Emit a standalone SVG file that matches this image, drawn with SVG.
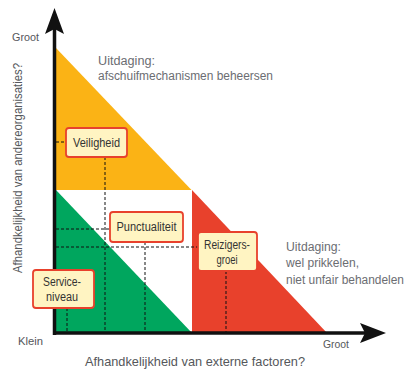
<svg xmlns="http://www.w3.org/2000/svg" width="409" height="371" viewBox="0 0 409 371">
<defs>
<style>
.t{font-family:"Liberation Sans",Arial,sans-serif;fill:#55575b}
.u{font-family:"Liberation Sans",Arial,sans-serif;fill:#6b6d72;font-size:12.5px}
.b{font-family:"Liberation Sans",Arial,sans-serif;fill:#333;font-size:12px;text-anchor:middle}
.box{fill:#fff4c2;stroke:#e8412c;stroke-width:1.8}
.dash{stroke:#111;stroke-width:1;stroke-dasharray:3,2;fill:none}
.axis{stroke:#111;stroke-width:3.5;fill:none}
</style>
</defs>
<rect width="409" height="371" fill="#fff"/>
<g id="regions">
<polygon points="56,48 56,190 191.5,190" fill="#fbb315"/>
<rect x="56" y="190" width="136" height="143" fill="#fff"/>
<polygon points="56,190 56,333 192,333" fill="#00a65e"/>
<polygon points="192,190 192,333 327,333" fill="#e8412c"/>
</g>
<g id="connectors">
<path class="dash" d="M56,142 H66 M105,157 V333 M56,229 H110 M145,242 V333 M56,247 H198 M226,271 V333 M67,308 V333"/>
</g>
<g id="axes">
<path class="axis" d="M54.5,335 V28"/>
<polygon points="54.5,8 64,34 54.5,29 45,34" fill="#111"/>
<path class="axis" d="M53,333 H365"/>
<polygon points="386,333 360,343 365,333 360,323" fill="#111"/>
</g>
<g id="veiligheid">
<rect class="box" x="66" y="128" width="61" height="29" rx="3"/>
<text class="b" x="96.5" y="147" textLength="47" lengthAdjust="spacingAndGlyphs">Veiligheid</text>
</g>
<g id="punctualiteit">
<rect class="box" x="110" y="212" width="73" height="30" rx="3"/>
<text class="b" x="146.5" y="231" textLength="60" lengthAdjust="spacingAndGlyphs">Punctualiteit</text>
</g>
<g id="reizigersgroei">
<rect class="box" x="198" y="232" width="59" height="39" rx="3"/>
<text class="b" x="227" y="249" textLength="46" lengthAdjust="spacingAndGlyphs">Reizigers-</text>
<text class="b" x="227" y="264" textLength="21" lengthAdjust="spacingAndGlyphs">groei</text>
</g>
<g id="serviceniveau">
<rect class="box" x="33" y="270" width="61" height="38" rx="3"/>
<text class="b" x="62" y="286" textLength="38" lengthAdjust="spacingAndGlyphs">Service-</text>
<text class="b" x="62" y="301" textLength="32" lengthAdjust="spacingAndGlyphs">niveau</text>
</g>
<g id="labels">
<text class="t" x="12" y="41" font-size="11.5" textLength="27" lengthAdjust="spacingAndGlyphs">Groot</text>
<text class="t" x="18" y="345" font-size="11.5" textLength="25" lengthAdjust="spacingAndGlyphs">Klein</text>
<text class="t" x="323" y="348" font-size="11.5" textLength="26" lengthAdjust="spacingAndGlyphs">Groot</text>
<text class="t" x="85" y="366" font-size="13.5" fill="#3f4044" textLength="220" lengthAdjust="spacingAndGlyphs">Afhandkelijkheid van externe factoren?</text>
<text class="t" transform="translate(22,273) rotate(-90)" x="0" y="0" font-size="13.5" textLength="210" lengthAdjust="spacingAndGlyphs">Afhandkelijkheid van andereorganisaties?</text>
<text class="u" x="98" y="65" textLength="57" lengthAdjust="spacingAndGlyphs">Uitdaging:</text>
<text class="u" x="98" y="80" textLength="175" lengthAdjust="spacingAndGlyphs">afschuifmechanismen beheersen</text>
<text class="u" x="286" y="251" textLength="55" lengthAdjust="spacingAndGlyphs">Uitdaging:</text>
<text class="u" x="286" y="267" textLength="73" lengthAdjust="spacingAndGlyphs">wel prikkelen,</text>
<text class="u" x="286" y="284" textLength="118" lengthAdjust="spacingAndGlyphs">niet unfair behandelen</text>
</g>
</svg>
